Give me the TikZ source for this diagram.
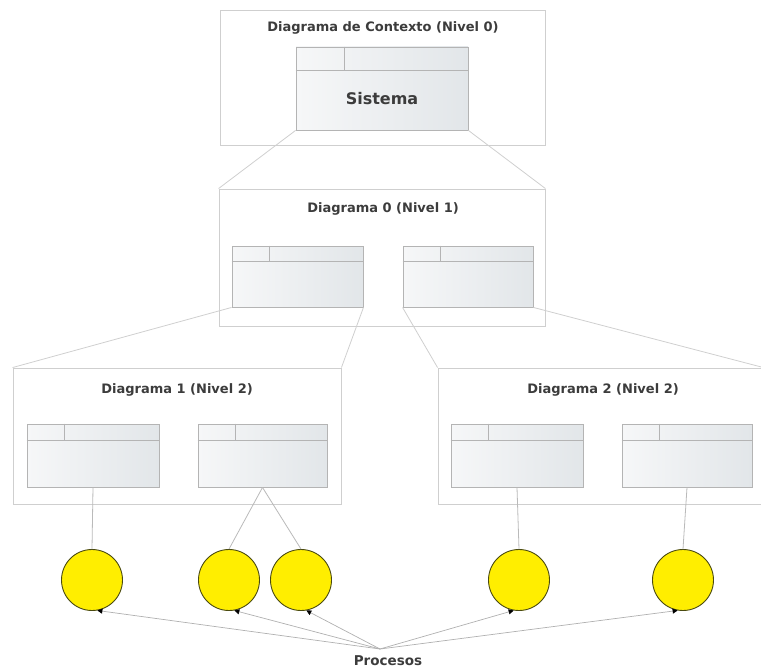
\documentclass[tikz,border=0pt]{standalone}
\usepackage{fontspec}
\setmainfont{DejaVu Sans}
\usetikzlibrary{arrows.meta}
\definecolor{frame}{HTML}{CFCFCF}
\definecolor{boxline}{HTML}{B4B4B4}
\definecolor{shadeL}{HTML}{F6F7F8}
\definecolor{shadeR}{HTML}{E2E6E9}
\definecolor{ttext}{HTML}{3C3C3C}
\definecolor{procfill}{HTML}{FFEE00}
\definecolor{procline}{HTML}{4A4A10}
\tikzset{
  outerbox/.style={draw=frame, line width=0.9pt, fill=white, rectangle, inner sep=0pt},
  innerbox/.style={draw=boxline, line width=0.9pt, rectangle, inner sep=0pt,
     left color=shadeL, right color=shadeR},
  hdr/.style={draw=boxline, line width=0.9pt},
  title/.style={font=\bfseries\fontsize{13}{15}\selectfont, text=ttext, inner sep=0pt},
  zoomline/.style={draw=frame, line width=0.8pt},
  link/.style={draw=frame!90!black, line width=0.8pt},
  proc/.style={circle, draw=procline, line width=0.9pt, fill=procfill, minimum size=61pt, inner sep=0pt},
  procarrow/.style={draw=frame!85!black, line width=0.7pt, -{Triangle[length=5pt,width=5pt,color=black]}}
}
\begin{document}
\begin{tikzpicture}[x=1pt,y=-1pt]
\useasboundingbox (0,0) rectangle (761,669);
\clip (0,0) rectangle (761,669);

% outer frames
\node[outerbox, minimum width=325, minimum height=135] (top) at (382.5,77.5) {};
\node[outerbox, minimum width=326, minimum height=137] (lone) at (382,257.5) {};
\node[outerbox, minimum width=328, minimum height=136] (ltwoL) at (177,436) {};
\node[outerbox, minimum width=325, minimum height=136] (ltwoR) at (600.5,436) {};

% titles
\node[title] (t0) at (383,28) {Diagrama de Contexto (Nivel 0)};
\node[title] (t1) at (383,209) {Diagrama 0 (Nivel 1)};
\node[title] (t2) at (177,390) {Diagrama 1 (Nivel 2)};
\node[title] (t3) at (603,390) {Diagrama 2 (Nivel 2)};

% Sistema box
\node[innerbox, minimum width=172, minimum height=83] (sis) at (382,88.5) {};
\draw[hdr] ([yshift=-24pt]sis.north west) -- ([yshift=-24pt]sis.north east);
\draw[hdr] ([xshift=49pt]sis.north west) -- ([xshift=49pt,yshift=-24pt]sis.north west);
\node[title, font=\bfseries\fontsize{16}{18}\selectfont] (sistxt) at (382,99) {Sistema};

% level 1 boxes
\node[innerbox, minimum width=131, minimum height=61] (a) at (297.5,276.5) {};
\node[innerbox, minimum width=130, minimum height=61] (b) at (468,276.5) {};
% level 2 boxes
\node[innerbox, minimum width=132, minimum height=63] (c1) at (93,455.5) {};
\node[innerbox, minimum width=129, minimum height=63] (c2) at (262.5,455.5) {};
\node[innerbox, minimum width=132, minimum height=63] (d1) at (517,455.5) {};
\node[innerbox, minimum width=130, minimum height=63] (d2) at (687,455.5) {};

\foreach \n/\h in {a/16,b/16,c1/17,c2/17,d1/17,d2/17}{
  \draw[hdr] ([yshift=-\h pt]\n.north west) -- ([yshift=-\h pt]\n.north east);
  \draw[hdr] ([xshift=38pt]\n.north west) -- ([xshift=38pt,yshift=-\h pt]\n.north west);
}

% zoom lines
\draw[zoomline] (sis.south west) -- (lone.north west);
\draw[zoomline] (sis.south east) -- (lone.north east);
\draw[zoomline] (a.south west) -- (ltwoL.north west);
\draw[zoomline] (a.south east) -- (ltwoL.north east);
\draw[zoomline] (b.south west) -- (ltwoR.north west);
\draw[zoomline] (b.south east) -- (ltwoR.north east);

% processes
\node[proc] (p1) at (92,580) {};
\node[proc] (p2) at (229,580) {};
\node[proc] (p3) at (301,580) {};
\node[proc] (p4) at (519,580) {};
\node[proc] (p5) at (683,580) {};

\draw[link] (c1.south) -- (p1.north);
\draw[link] (c2.south) -- (p2.north);
\draw[link] (c2.south) -- (p3.north);
\draw[link] (d1.south) -- (p4.north);
\draw[link] (d2.south) -- (p5.north);

% label and arrows
\node[title, font=\bfseries\fontsize{13.5}{15}\selectfont] (lbl) at (388,661) {Procesos};
\coordinate (pp) at (380,649);
\draw[procarrow] (pp) -- (p1.-80);
\draw[procarrow] (pp) -- (p2.-80);
\draw[procarrow] (pp) -- (p3.-80);
\draw[procarrow] (pp) -- (p4.-100);
\draw[procarrow] (pp) -- (p5.-100);
\end{tikzpicture}
\end{document}
